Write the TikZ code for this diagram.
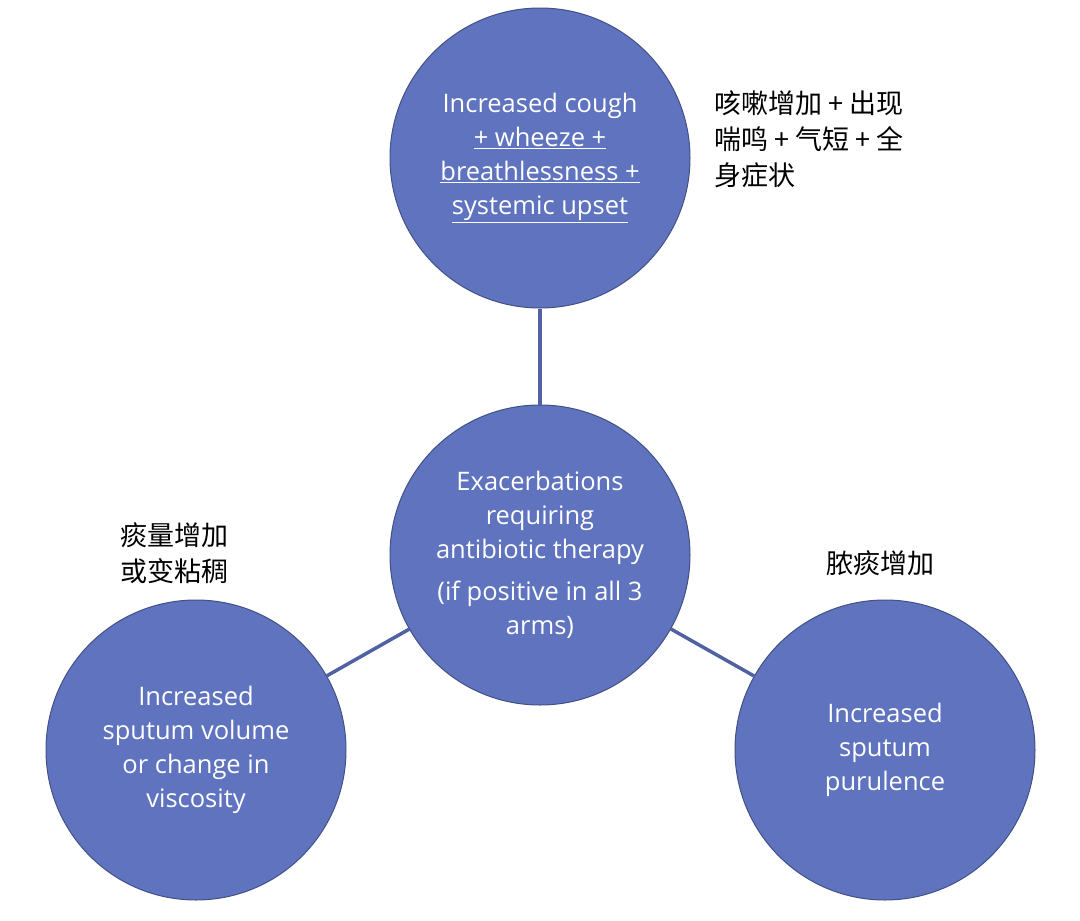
\documentclass[tikz,border=0pt]{standalone}
\usepackage{fontspec}
\setmainfont{Open Sans}
\newfontfamily\cjk{Noto Sans CJK SC}
\definecolor{armblue}{HTML}{5F73BF}
\tikzset{
  arm/.style={circle, fill=armblue, draw=armblue!70!black, line width=1pt, minimum size=300pt, inner sep=0pt,
    text=white, align=center, font=\fontsize{25.5}{34}\selectfont},
  link/.style={draw=armblue!85!black, line width=3.5pt},
  note/.style={align=left, font=\cjk\fontsize{27}{36}\selectfont, inner sep=0pt}
}
\begin{document}
\begin{tikzpicture}[x=1pt,y=-1pt]
\useasboundingbox (0,0) rectangle (1080,921);
% Circles
\node (center) [arm] at (540,555) {Exacerbations\\requiring\\antibiotic therapy\\[8pt](if positive in all 3\\arms)};
\node (cough) [arm] at (540,158) {Increased cough\\\underline{+ wheeze +}\\\underline{breathlessness +}\\\underline{systemic upset}};
\node (volume) [arm] at (196,750) {Increased\\sputum volume\\or change in\\viscosity};
\node (purulence) [arm] at (885,750) {Increased\\sputum\\purulence};

% Links
\draw [link] (center) -- (cough);
\draw [link] (center) -- (volume);
\draw [link] (center) -- (purulence);

% Notes
\node (ncough) [note, anchor=north west] at (714,90) {咳嗽增加 + 出现\\喘鸣 + 气短 + 全\\身症状};
\node (nvolume) [note, anchor=north west] at (120,522) {痰量增加\\或变粘稠};
\node (npurulence) [note, anchor=north west] at (826,550) {脓痰增加};
\end{tikzpicture}
\end{document}
